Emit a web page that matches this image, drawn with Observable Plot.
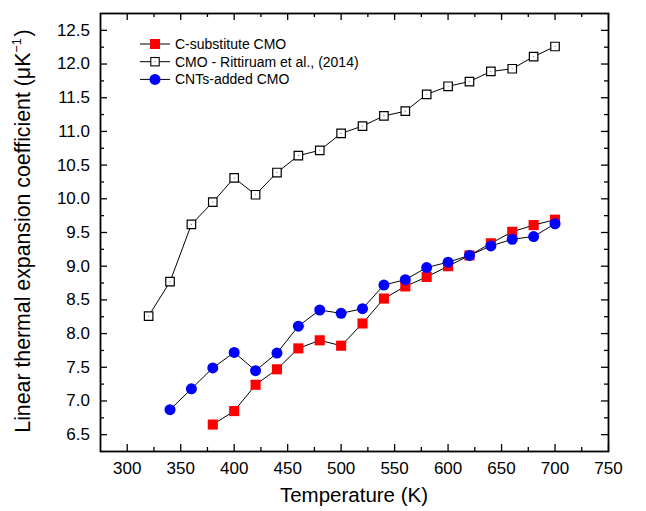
<!DOCTYPE html>
<html><head><meta charset="utf-8">
<script src="https://cdn.jsdelivr.net/npm/d3@7"></script>
<script src="https://cdn.jsdelivr.net/npm/@observablehq/plot@0.6"></script>
<style>
html,body{margin:0;padding:0;background:#fff;}
#wrap{position:relative;width:646px;height:511px;}
svg{font-family:"Liberation Sans",Arial,sans-serif;}
</style></head><body><div id="wrap"></div>
<script>
// ---- data ----
const seriesNames = ["C-substitute CMO", "CMO - Rittiruam et al., (2014)", "CNTs-added CMO"];
const tempCsub = [380,400,420,440,460,480,500,520,540,560,580,600,620,640,660,680,700];
const cteCsub  = [6.65,6.85,7.24,7.47,7.78,7.90,7.82,8.15,8.52,8.70,8.84,9.00,9.16,9.34,9.51,9.61,9.69];
const tempRef = [320,340,360,380,400,420,440,460,480,500,520,540,560,580,600,620,640,660,680,700];
const cteRef  = [8.26,8.77,9.62,9.95,10.31,10.06,10.39,10.64,10.72,10.97,11.08,11.23,11.30,11.55,11.67,11.74,11.89,11.93,12.11,12.26];
const tempCnt = [340,360,380,400,420,440,460,480,500,520,540,560,580,600,620,640,660,680,700];
const cteCnt  = [6.87,7.18,7.49,7.72,7.45,7.71,8.11,8.35,8.30,8.37,8.72,8.80,8.98,9.06,9.16,9.30,9.40,9.44,9.63];
const xMajorTicks = [300,350,400,450,500,550,600,650,700,750];
const xMinorTicks = [325,375,425,475,525,575,625,675,725];
const yMajorTicks = [6.5,7.0,7.5,8.0,8.5,9.0,9.5,10.0,10.5,11.0,11.5,12.0,12.5];
const yMinorTicks = [6.75,7.25,7.75,8.25,8.75,9.25,9.75,10.25,10.75,11.25,11.75,12.25];
const xLabel = "Temperature (K)";
const yLabelMain = "Linear thermal expansion coefficient ";
const yLabelUnit = ["(\u03BCK", "\u22121", ")"];

const csub = tempCsub.map((t,i)=>({t, v: cteCsub[i]}));
const ref = tempRef.map((t,i)=>({t, v: cteRef[i]}));
const cnt = tempCnt.map((t,i)=>({t, v: cteCnt[i]}));

const W = 646, H = 511, mL = 100, mR = 38, mT = 13, mB = 60;
const pw = W - mL - mR, ph = H - mT - mB;
const font = "Liberation Sans, Arial, sans-serif";

const chart = Plot.plot({
  width: W, height: H,
  marginLeft: mL, marginRight: mR, marginTop: mT, marginBottom: mB,
  style: {fontFamily: font, fontSize: "17px", background: "#fff", color: "#000"},
  x: {domain: [275, 750], label: null},
  y: {domain: [6.25, 12.75], label: null},
  marks: [
    Plot.axisX(xMajorTicks, {tickSize: 0, tickPadding: 10.5, fontSize: 17, tickFormat: d => d, label: null}),
    Plot.axisY(yMajorTicks, {tickSize: 0, tickPadding: 10.5, fontSize: 17, tickFormat: d => d.toFixed(1), label: null}),
    // inward ticks, bottom / top
    Plot.tickX(xMajorTicks, {x: d => d, insetTop: ph - 7, stroke: "#000", strokeWidth: 1.3}),
    Plot.tickX(xMinorTicks, {x: d => d, insetTop: ph - 4, stroke: "#000", strokeWidth: 1.3}),
    Plot.tickX(xMajorTicks, {x: d => d, insetBottom: ph - 7, stroke: "#000", strokeWidth: 1.3}),
    Plot.tickX(xMinorTicks, {x: d => d, insetBottom: ph - 4, stroke: "#000", strokeWidth: 1.3}),
    // inward ticks, left / right
    Plot.tickY(yMajorTicks, {y: d => d, insetRight: pw - 7, stroke: "#000", strokeWidth: 1.3}),
    Plot.tickY(yMinorTicks, {y: d => d, insetRight: pw - 4, stroke: "#000", strokeWidth: 1.3}),
    Plot.tickY(yMajorTicks, {y: d => d, insetLeft: pw - 7, stroke: "#000", strokeWidth: 1.3}),
    Plot.tickY(yMinorTicks, {y: d => d, insetLeft: pw - 4, stroke: "#000", strokeWidth: 1.3}),
    // reference series
    Plot.line(ref, {x: "t", y: "v", stroke: "#000", strokeWidth: 1}),
    Plot.dot(ref, {x: "t", y: "v", symbol: "square", r: 4.8, fill: "#fff", stroke: "#000", strokeWidth: 1.2}),
    Plot.dot(ref, {x: "t", y: "v", r: 0.6, fill: "#777", stroke: "none"}),
    // C-substitute
    Plot.line(csub, {x: "t", y: "v", stroke: "#000", strokeWidth: 1}),
    Plot.dot(csub, {x: "t", y: "v", symbol: "square", r: 5.7, fill: "#ff0000", stroke: "none"}),
    // CNTs-added
    Plot.line(cnt, {x: "t", y: "v", stroke: "#000", strokeWidth: 1}),
    Plot.dot(cnt, {x: "t", y: "v", symbol: "circle", r: 5.5, fill: "#0000ff", stroke: "none"}),
    Plot.frame({stroke: "#000", strokeWidth: 1.8})
  ]
});

document.getElementById("wrap").appendChild(chart);

const svg = d3.select(chart);
// axis titles
svg.append("text")
  .attr("x", mL + pw / 2).attr("y", 502)
  .attr("text-anchor", "middle")
  .attr("font-size", 20.5).attr("font-family", font).attr("fill", "#000")
  .text(xLabel);
const yl = svg.append("text")
  .attr("transform", `translate(29.5,${mT + ph / 2 - 1}) rotate(-90)`)
  .attr("text-anchor", "middle")
  .attr("font-size", 21.3).attr("font-family", font).attr("fill", "#000");
yl.append("tspan").text(yLabelMain);
yl.append("tspan").text(yLabelUnit[0]);
yl.append("tspan").attr("font-size", 12.5).attr("dy", -9).text(yLabelUnit[1]);
yl.append("tspan").attr("dy", 9).attr("dx", 2).text(yLabelUnit[2]);

// legend
const lg = svg.append("g").attr("text-anchor", "start");
const rows = [
  {name: seriesNames[0], kind: "redsq"},
  {name: seriesNames[1], kind: "opensq"},
  {name: seriesNames[2], kind: "bluecirc"}
];
rows.forEach((r, i) => {
  const cy = 44 + i * 17.7;
  lg.append("line").attr("x1", 140).attr("x2", 170).attr("y1", cy).attr("y2", cy)
    .attr("stroke", "#000").attr("stroke-width", 1);
  if (r.kind === "redsq") {
    lg.append("rect").attr("x", 155 - 5).attr("y", cy - 5).attr("width", 10).attr("height", 10).attr("fill", "#ff0000");
  } else if (r.kind === "opensq") {
    lg.append("rect").attr("x", 155 - 4.2).attr("y", cy - 4.2).attr("width", 8.4).attr("height", 8.4)
      .attr("fill", "#fff").attr("stroke", "#000").attr("stroke-width", 1.1);
    lg.append("circle").attr("cx", 155).attr("cy", cy).attr("r", 0.6).attr("fill", "#777");
  } else {
    lg.append("circle").attr("cx", 155).attr("cy", cy).attr("r", 5.5).attr("fill", "#0000ff");
  }
  lg.append("text").attr("x", 175).attr("y", cy + 5)
    .attr("text-anchor", "start")
    .attr("font-size", 14).attr("font-family", font).attr("fill", "#000").text(r.name);
});
</script></body></html>
